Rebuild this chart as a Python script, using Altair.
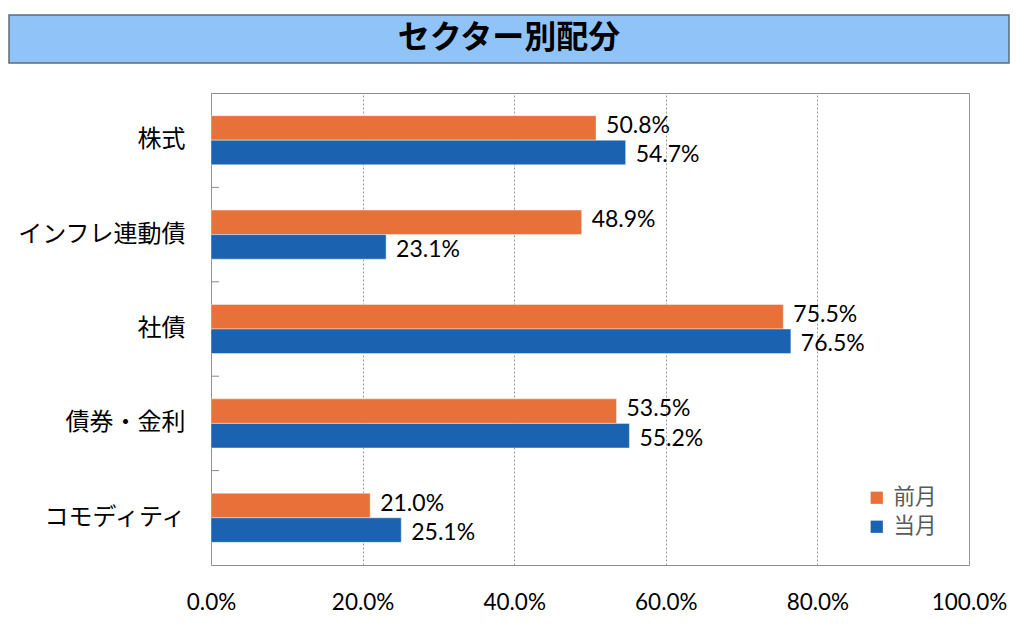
import altair as alt
import pandas as pd

title_text = "セクター別配分"
categories = ["株式", "インフレ連動債", "社債", "債券・金利", "コモディティ"]
series = ["前月", "当月"]
prev_vals = [50.8, 48.9, 75.5, 53.5, 21.0]
curr_vals = [54.7, 23.1, 76.5, 55.2, 25.1]
x_ticks = [0, 20, 40, 60, 80, 100]
colors = ["#E8713A", "#1B63B0"]

rows = []
for c, p, q in zip(categories, prev_vals, curr_vals):
    rows.append({"cat": c, "series": series[0], "value": p, "label": f"{p:.1f}%"})
    rows.append({"cat": c, "series": series[1], "value": q, "label": f"{q:.1f}%"})
df = pd.DataFrame(rows)

JP = "Noto Sans CJK JP"
NUM = "Lato"

y_enc = alt.Y(
    "cat:N", sort=categories,
    scale=alt.Scale(paddingInner=0.48, paddingOuter=0.24),
    axis=alt.Axis(title=None, labelFont=JP, labelFontSize=24, labelColor="black",
                  ticks=False, domain=False, labelPadding=26, minExtent=202,
                  maxExtent=202, grid=False),
)
x_enc = alt.X(
    "value:Q",
    scale=alt.Scale(domain=[0, 100], nice=False),
    axis=alt.Axis(title=None, values=x_ticks,
                  labelExpr="format(datum.value,'.1f')+'%'",
                  labelFont=NUM, labelFontSize=22.5, labelColor="black",
                  ticks=False, domain=False, labelPadding=26, grid=True,
                  gridColor="#9a9a9a", gridDash=[2, 2], labelFlush=False),
)
yoff = alt.YOffset("series:N", sort=series,
                   scale=alt.Scale(domain=series, paddingInner=0, paddingOuter=0))

base = alt.Chart(df)
bars = base.mark_bar(stroke="white", strokeWidth=0.6, strokeOpacity=0.7).encode(
    x=x_enc, y=y_enc, yOffset=yoff,
    color=alt.Color("series:N", sort=series,
                    scale=alt.Scale(domain=series, range=colors),
                    legend=alt.Legend(title=None, orient="none", legendX=655,
                                      legendY=394, symbolType="square",
                                      symbolSize=150, symbolStrokeWidth=0,
                                      labelFont=JP, labelFontSize=21.5,
                                      labelColor="#595959", rowPadding=6,
                                      labelOffset=6)),
)

prev_text = base.transform_filter(alt.datum.series == series[0]).mark_text(
    align="left", dx=10, dy=-2, font=NUM, fontSize=23, color="black"
).encode(x=alt.X("value:Q"), y=alt.Y("cat:N", sort=categories), yOffset=yoff, text="label:N")

curr_text = base.transform_filter(alt.datum.series == series[1]).mark_text(
    align="left", dx=10, dy=3, font=NUM, fontSize=23, color="black"
).encode(x=alt.X("value:Q"), y=alt.Y("cat:N", sort=categories), yOffset=yoff, text="label:N")

tick_df = pd.DataFrame({"cat": categories[1:]})
ticks = alt.Chart(tick_df).mark_rule(color="#8c8c8c", yOffset=-47.2).encode(
    y=alt.Y("cat:N", sort=categories), x=alt.value(0), x2=alt.value(8)
)

# Title banner (decoration above the plot area)
title_df = pd.DataFrame({"t": [title_text]})
title_box = alt.Chart(title_df).mark_rect(
    fill="#90C4F9", stroke="#5B6B7B", strokeWidth=1.5
).encode(x=alt.value(-202), x2=alt.value(798), y=alt.value(-78), y2=alt.value(-30))
title_txt = alt.Chart(title_df).mark_text(
    font=JP, fontSize=32, fontWeight="bold", color="black", baseline="middle"
).encode(text="t:N", x=alt.value(298), y=alt.value(-55))

chart = alt.layer(title_box, title_txt, bars, prev_text, curr_text, ticks).properties(
    width=758, height=472,
    padding={"left": 0, "top": 6, "right": 5, "bottom": 0},
    background="white",
).configure_view(stroke="#8c8c8c", strokeWidth=1)

chart.save("out.html", embed_options={"renderer": "svg", "actions": False})
